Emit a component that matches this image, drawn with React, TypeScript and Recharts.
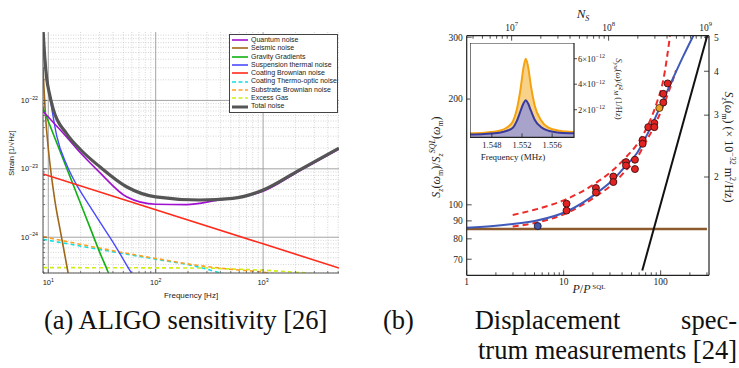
import React from "react";
import {
  Area,
  AreaChart,
  ComposedChart,
  Label,
  Legend,
  Line,
  ReferenceArea,
  ReferenceLine,
  Scatter,
  XAxis,
  YAxis
} from "recharts";

type Pt = [number, number];

// ---------- (a) ALIGO sensitivity: [frequency Hz, strain 1/sqrt(Hz)] ----------
const quantumNoise: Pt[] = [
  [8.93, 6.9e-23], [14.8, 2.92e-23], [20, 1.7e-23], [30.2, 8.8e-24], [53.5, 3.9e-24],
  [100, 3.03e-24], [193, 3.0e-24], [366, 3.45e-24], [1000, 4.7e-24], [2174, 9.3e-24], [5090, 1.95e-23]
];
const seismicNoise: Pt[] = [
  [8.93, 3e-22], [9.5, 5e-23], [10, 2e-23], [11.5, 3.5e-24], [13, 1.2e-24], [15.3, 3e-25], [16, 2e-25]
];
const gravityGradients: Pt[] = [
  [8.93, 7.8e-23], [15, 9.8e-24], [19.4, 3.5e-24], [25, 1.27e-24], [30, 6.1e-25], [36, 3.1e-25], [40, 2e-25]
];
const suspensionThermal: Pt[] = [
  [8.93, 1.2e-21], [9.5, 3e-22], [10.4, 1.1e-22], [12, 3e-23], [15, 1.1e-23], [19, 5.3e-24],
  [22.4, 3.5e-24], [30, 1.7e-24], [40, 8.5e-25], [59.5, 3e-25], [65, 2.4e-25]
];
const coatingBrownian: Pt[] = [[8.93, 8.4e-24], [100, 2.52e-24], [1000, 8e-25], [5090, 3.55e-25]];
const coatingThermoOptic: Pt[] = [
  [8.93, 9.3e-25], [46, 5.9e-25], [98, 4.8e-25], [238, 3.75e-25], [400, 3e-25], [450, 2.85e-25]
];
const substrateBrownian: Pt[] = [
  [8.93, 1.02e-24], [46, 6.1e-25], [100, 4.9e-25], [240, 3.9e-25], [500, 3.4e-25], [1150, 3e-25], [1300, 2.9e-25]
];
const excessGas: Pt[] = [[8.93, 3.6e-25], [300, 3.55e-25], [1000, 3.3e-25], [2600, 3e-25], [3000, 2.9e-25]];
const totalNoise: Pt[] = [
  [8.93, 1.1e-21], [9.3, 4e-22], [9.7, 2e-22], [10.2, 1.3e-22], [11.1, 7.5e-23], [14.8, 3.27e-23],
  [20, 1.9e-23], [30.2, 1.07e-23], [53.5, 5.47e-24], [100, 3.89e-24], [256, 3.5e-24], [522, 3.7e-24],
  [1000, 4.9e-24], [2174, 9.6e-24], [5090, 2e-23]
];

const aligoXDomain = [8.93, 5090];
const aligoYDomain = [3e-25, 1e-21];
const aligoXDecades = [10, 100, 1000];
const aligoYDecades = [1e-25, 1e-24, 1e-23, 1e-22];

const legendItems = [
  { name: "Quantum noise", color: "#a010d0", dashed: false },
  { name: "Seismic noise", color: "#a0661a", dashed: false },
  { name: "Gravity Gradients", color: "#10b010", dashed: false },
  { name: "Suspension thermal noise", color: "#4a4aff", dashed: false },
  { name: "Coating Brownian noise", color: "#ff2a1a", dashed: false },
  { name: "Coating Thermo-optic noise", color: "#10e0e0", dashed: true },
  { name: "Substrate Brownian noise", color: "#ffa020", dashed: true },
  { name: "Excess Gas", color: "#d0ee10", dashed: true },
  { name: "Total noise", color: "#555555", dashed: false }
];

// ---------- (b) displacement spectrum: [P/P_SQL, S_z/S_z^SQL] ----------
const blueFit: Pt[] = [
  [1, 86], [2, 87.2], [3, 88.2], [5.3, 90.2], [10.7, 95.7], [21.9, 108], [32.5, 118], [44.6, 130],
  [56.6, 140], [66.2, 151], [83.9, 172], [106.5, 199], [134.9, 230], [171, 265], [217, 303]
];
const redUpper: Pt[] = [
  [2.98, 93.6], [5.27, 97.2], [10.7, 103.8], [21.9, 115.8], [32.5, 125.8], [44.6, 137.3],
  [56.6, 148.2], [71.7, 165.4], [91, 194.9], [106.5, 227], [124.7, 302]
];
const redLower: Pt[] = [
  [2.98, 86.7], [5.27, 89], [10.7, 94.7], [21.9, 106.1], [32.5, 115], [44.6, 126], [56.6, 135.5],
  [66.2, 146.6], [83.9, 165.4], [106.5, 191.4], [124.7, 214.8], [143.8, 241.3]
];
const sqlFloor: Pt[] = [[1, 85.3], [300, 85.3]];
const backAction: Pt[] = [[64.6, 65], [302, 303]];
const redDots: Pt[] = [
  [10.7, 100.7], [10.7, 96.3], [21.5, 111.6], [21.5, 108.4], [32.5, 120.4], [32.5, 116.1],
  [43.9, 132.3], [43.9, 129.4], [54.3, 134.4], [54.3, 126.4], [65.2, 153], [65.2, 149.2],
  [74.5, 166.4], [86, 170.9], [86, 166.4], [106.4, 195.6], [106.4, 207], [118, 221.6]
];
const orangeDots: Pt[] = [[96.8, 188.6]];
const blueDots: Pt[] = [[5.4, 87]];

const pDomain = [1, 315];
const nsDomain = [3.44e6, 1.084e9];
const ratioDomain = [63, 303];
const szDomain = [1.05, 5.05];
const pTicks = [1, 2, 3, 4, 5, 6, 7, 8, 9, 10, 20, 30, 40, 50, 60, 70, 80, 90, 100, 200, 300];
const nsTicks = [
  4e6, 5e6, 6e6, 7e6, 8e6, 9e6, 1e7, 2e7, 3e7, 4e7, 5e7, 6e7, 7e7, 8e7, 9e7,
  1e8, 2e8, 3e8, 4e8, 5e8, 6e8, 7e8, 8e8, 9e8, 1e9
];
const ratioTicks = [70, 80, 90, 100, 200, 300];
const szTicks = [2, 3, 4, 5];

// inset: frequency (MHz) and spectra (1/Hz)
const insetFreq = [
  1.5451, 1.547, 1.549, 1.55, 1.5508, 1.5513, 1.5518, 1.5522, 1.5525, 1.5528, 1.5532, 1.5537, 1.5545, 1.5555, 1.557, 1.5589
];
const insetOrange = [
  0.15e-12, 0.2e-12, 0.35e-12, 0.6e-12, 1.1e-12, 2e-12, 3.6e-12, 5.3e-12, 6e-12, 5.4e-12, 3.8e-12,
  2.3e-12, 1.2e-12, 0.6e-12, 0.35e-12, 0.25e-12
];
const insetBlue = [
  0.05e-12, 0.1e-12, 0.2e-12, 0.35e-12, 0.6e-12, 1.1e-12, 1.9e-12, 2.5e-12, 2.75e-12, 2.5e-12, 1.9e-12,
  1.2e-12, 0.65e-12, 0.35e-12, 0.2e-12, 0.15e-12
];
const insetXTicks = [1.548, 1.552, 1.556];
const insetYTicks = [2e-12, 4e-12, 6e-12];

const SANS = '"Liberation Sans", Arial, sans-serif';
const SERIF = '"Liberation Serif", "DejaVu Serif", serif';

const rows = (pts: Pt[]) => pts.map(([x, y]) => ({ x, y }));
const minors = (decades: number[], lo: number, hi: number) =>
  decades.flatMap((d) => [2, 3, 4, 5, 6, 7, 8, 9].map((k) => k * d)).filter((v) => v >= lo * 0.999 && v <= hi);
const isDecade = (v: number) => Math.abs(Math.log10(v) - Math.round(Math.log10(v))) < 1e-9;

const pow10 = (e: string, size: number) => (
  <>
    <tspan>10</tspan>
    <tspan dy={-size * 0.45} fontSize={size * 0.7}>
      {e}
    </tspan>
  </>
);

type Side = "bottom" | "top" | "left" | "right";
function tickFactory(
  side: Side,
  labelOf: (v: number) => React.ReactNode | null,
  opt: { major: number; minor: number; inward: boolean; offset: number; font: string; size: number; color?: string }
) {
  return (props: any) => {
    const { x, y, payload } = props;
    const v = payload.value as number;
    const lab = labelOf(v);
    const len = lab != null ? opt.major : opt.minor;
    const dir = opt.inward ? 1 : -1;
    let x2 = x;
    let y2 = y;
    let tx = x;
    let ty = y;
    let anchor: "middle" | "end" | "start" = "middle";
    if (side === "bottom") {
      y2 = y - dir * len;
      ty = y + opt.offset;
    } else if (side === "top") {
      y2 = y + dir * len;
      ty = y - opt.offset;
    } else if (side === "left") {
      x2 = x + dir * len;
      tx = x - opt.offset;
      ty = y + opt.size * 0.35;
      anchor = "end";
    } else {
      x2 = x - dir * len;
      tx = x + opt.offset;
      ty = y + opt.size * 0.35;
      anchor = "start";
    }
    return (
      <g>
        {len !== 0 && <line x1={x} y1={y} x2={x2} y2={y2} stroke={opt.color ?? "#222"} strokeWidth={0.8} />}
        {lab != null && (
          <text x={tx} y={ty} textAnchor={anchor} fontFamily={opt.font} fontSize={opt.size} fill="#222">
            {lab}
          </text>
        )}
      </g>
    );
  };
}

function AligoLegend() {
  return (
    <div
      style={{
        background: "#fff",
        border: "1px solid #444",
        width: 105,
        padding: "1px 0 1px 2px",
        fontFamily: SANS,
        fontSize: 7,
        lineHeight: "8.3px",
        color: "#222",
        textAlign: "left"
      }}
    >
      {legendItems.map((it) => (
        <div key={it.name} style={{ display: "flex", alignItems: "center", whiteSpace: "nowrap" }}>
          <svg width={17} height={6} style={{ marginRight: 2, flex: "none" }}>
            <line
              x1={0}
              y1={3}
              x2={16}
              y2={3}
              stroke={it.color}
              strokeWidth={it.name === "Total noise" ? 3 : 1.6}
              strokeDasharray={it.dashed ? "4 2.5" : undefined}
            />
          </svg>
          {it.name}
        </div>
      ))}
    </div>
  );
}

function AligoChart() {
  const xMinor = minors([1, 10, 100, 1000], aligoXDomain[0], aligoXDomain[1]);
  const yMinor = minors(aligoYDecades, aligoYDomain[0], aligoYDomain[1]);
  const xAll = [...xMinor, ...aligoXDecades].sort((a, b) => a - b);
  const yAll = [...yMinor, ...aligoYDecades.filter((d) => d >= aligoYDomain[0])].sort((a, b) => a - b);
  const tickStyle = { font: SANS, size: 7.5, color: "#555" };
  const series: { pts: Pt[]; color: string; width: number; dash?: string; type: "monotone" | "linear" }[] = [
    { pts: excessGas, color: "#d0ee10", width: 1.6, dash: "4 3", type: "linear" },
    { pts: coatingThermoOptic, color: "#10e0e0", width: 1.6, dash: "4 3", type: "monotone" },
    { pts: substrateBrownian, color: "#ffa020", width: 1.6, dash: "4 3", type: "monotone" },
    { pts: seismicNoise, color: "#a0661a", width: 1.6, type: "monotone" },
    { pts: gravityGradients, color: "#10b010", width: 1.6, type: "monotone" },
    { pts: suspensionThermal, color: "#4a4aff", width: 1.4, type: "monotone" },
    { pts: coatingBrownian, color: "#ff2a1a", width: 1.6, type: "linear" },
    { pts: quantumNoise, color: "#a010d0", width: 1.6, type: "monotone" },
    { pts: totalNoise, color: "#555555", width: 3.2, type: "monotone" }
  ];
  return (
    <ComposedChart width={350} height={305} margin={{ top: 32, right: 11, bottom: 0, left: 0 }}>
      <XAxis
        dataKey="x"
        type="number"
        scale="log"
        domain={aligoXDomain}
        allowDataOverflow
        ticks={xAll}
        interval={0}
        height={32}
        tickSize={0}
        tickMargin={0}
        tickLine={false}
        axisLine={{ stroke: "#555" }}
        tick={tickFactory("bottom", (v) => (isDecade(v) ? pow10(String(Math.round(Math.log10(v))), 7.5) : null), {
          major: 4,
          minor: 2,
          inward: true,
          offset: 12,
          ...tickStyle
        })}
      >
        <Label
          content={() => (
            <text x={191} y={298} textAnchor="middle" fontFamily={SANS} fontSize={8} fill="#222">
              Frequency [Hz]
            </text>
          )}
        />
      </XAxis>
      <XAxis
        xAxisId="top"
        orientation="top"
        dataKey="x"
        type="number"
        scale="log"
        domain={aligoXDomain}
        allowDataOverflow
        ticks={xAll}
        interval={0}
        height={0}
        tickSize={0}
        tickMargin={0}
        tickLine={false}
        axisLine={{ stroke: "#555" }}
        tick={tickFactory("top", () => null, { major: 4, minor: 2, inward: true, offset: 0, ...tickStyle })}
      />
      <YAxis
        dataKey="y"
        type="number"
        scale="log"
        domain={aligoYDomain}
        allowDataOverflow
        ticks={yAll}
        interval={0}
        width={43}
        tickSize={0}
        tickMargin={0}
        tickLine={false}
        axisLine={{ stroke: "#555" }}
        tick={tickFactory("left", (v) => (isDecade(v) ? pow10("\u2212" + String(-Math.round(Math.log10(v))), 7.5) : null), {
          major: 4,
          minor: 2,
          inward: true,
          offset: 5,
          ...tickStyle
        })}
      >
        <Label
          content={() => (
            <text transform="translate(14,153) rotate(-90)" textAnchor="middle" fontFamily={SANS} fontSize={7.5} fill="#222">
              Strain [1/√Hz]
            </text>
          )}
        />
      </YAxis>
      <YAxis
        yAxisId="right"
        orientation="right"
        dataKey="y"
        type="number"
        scale="log"
        domain={aligoYDomain}
        allowDataOverflow
        ticks={yAll}
        interval={0}
        width={0}
        tickSize={0}
        tickMargin={0}
        tickLine={false}
        axisLine={{ stroke: "#555" }}
        tick={tickFactory("right", () => null, { major: 4, minor: 2, inward: true, offset: 0, ...tickStyle })}
      />
      {xMinor.map((v) => (
        <ReferenceLine key={"xm" + v} x={v} stroke="#c4c4c4" strokeWidth={0.7} strokeDasharray="1 1.5" />
      ))}
      {yMinor.map((v) => (
        <ReferenceLine key={"ym" + v} y={v} stroke="#c4c4c4" strokeWidth={0.7} strokeDasharray="1 1.5" />
      ))}
      {aligoXDecades.map((v) => (
        <ReferenceLine key={"xM" + v} x={v} stroke="#9a9a9a" strokeWidth={0.9} />
      ))}
      {aligoYDecades
        .filter((v) => v > aligoYDomain[0])
        .map((v) => (
          <ReferenceLine key={"yM" + v} y={v} stroke="#9a9a9a" strokeWidth={0.9} />
        ))}
      {series.map((s, i) => (
        <Line
          key={i}
          data={rows(s.pts)}
          dataKey="y"
          type={s.type}
          stroke={s.color}
          strokeWidth={s.width}
          strokeDasharray={s.dash}
          dot={false}
          activeDot={false}
          isAnimationActive={false}
        />
      ))}
      <Legend
        layout="vertical"
        align="center"
        verticalAlign="middle"
        wrapperStyle={{ left: 229, top: 34, width: 108 }}
        content={() => <AligoLegend />}
      />
    </ComposedChart>
  );
}

function Dot(fill: string, stroke: string) {
  return (p: any) => <circle cx={p.cx} cy={p.cy} r={3.5} fill={fill} stroke={stroke} strokeWidth={0.9} />;
}

function DisplacementChart() {
  const t = { font: SERIF, size: 9.5, color: "#222" };
  return (
    <ComposedChart width={369} height={300} margin={{ top: 14, right: 0, bottom: 0, left: 0 }}>
      <XAxis
        xAxisId="p"
        dataKey="x"
        type="number"
        scale="log"
        domain={pDomain}
        allowDataOverflow
        ticks={pTicks}
        interval={0}
        height={24.7}
        tickSize={0}
        tickMargin={0}
        tickLine={false}
        axisLine={{ stroke: "#222", strokeWidth: 1.2 }}
        tick={tickFactory("bottom", (v) => (isDecade(v) ? String(v) : null), {
          major: 5,
          minor: 3,
          inward: true,
          offset: 10,
          ...t
        })}
      >
        <Label
          content={() => (
            <text x={219} y={293} textAnchor="middle" fontFamily={SERIF} fontSize={12} fill="#222">
              <tspan fontStyle="italic">P</tspan>
              <tspan>/</tspan>
              <tspan fontStyle="italic">P</tspan>
              <tspan dy={-4} fontSize={7}>
                {" SQL"}
              </tspan>
            </text>
          )}
        />
      </XAxis>
      <XAxis
        xAxisId="ns"
        orientation="top"
        dataKey="x"
        type="number"
        scale="log"
        domain={nsDomain}
        allowDataOverflow
        ticks={nsTicks}
        interval={0}
        height={21.7}
        tickSize={0}
        tickMargin={0}
        tickLine={false}
        axisLine={{ stroke: "#222", strokeWidth: 1.2 }}
        tick={tickFactory("top", (v) => (isDecade(v) ? pow10(String(Math.round(Math.log10(v))), 9.5) : null), {
          major: 5,
          minor: 3,
          inward: true,
          offset: 5,
          ...t
        })}
      >
        <Label
          content={() => (
            <text x={213} y={18} textAnchor="middle" fontFamily={SERIF} fontSize={13} fontStyle="italic" fill="#222">
              N
              <tspan dy={3} fontSize={8}>
                S
              </tspan>
            </text>
          )}
        />
      </XAxis>
      <YAxis
        yAxisId="l"
        dataKey="y"
        type="number"
        scale="log"
        domain={ratioDomain}
        allowDataOverflow
        ticks={ratioTicks}
        interval={0}
        width={96.7}
        tickSize={0}
        tickMargin={0}
        tickLine={false}
        axisLine={{ stroke: "#222", strokeWidth: 1.2 }}
        tick={tickFactory("left", (v) => String(v), { major: 5, minor: 3, inward: true, offset: 4, ...t })}
      >
        <Label
          content={() => (
            <text transform="translate(70,157) rotate(-90)" textAnchor="middle" fontFamily={SERIF} fontSize={12} fill="#222">
              <tspan fontStyle="italic">S</tspan>
              <tspan dy={3} fontSize={8} fontStyle="italic">z</tspan>
              <tspan dy={-3}>(</tspan>
              <tspan fontStyle="italic">ω</tspan>
              <tspan dy={3} fontSize={8}>m</tspan>
              <tspan dy={-3}>)/</tspan>
              <tspan fontStyle="italic">S</tspan>
              <tspan dy={3} fontSize={8} fontStyle="italic">z</tspan>
              <tspan dy={-8} fontSize={8} fontStyle="italic">SQL</tspan>
              <tspan dy={5}>(</tspan>
              <tspan fontStyle="italic">ω</tspan>
              <tspan dy={3} fontSize={8}>m</tspan>
              <tspan dy={-3}>)</tspan>
            </text>
          )}
        />
      </YAxis>
      <YAxis
        yAxisId="r"
        orientation="right"
        dataKey="y"
        type="number"
        scale="log"
        domain={szDomain}
        allowDataOverflow
        ticks={szTicks}
        interval={0}
        width={30}
        tickSize={0}
        tickMargin={0}
        tickLine={false}
        axisLine={{ stroke: "#222", strokeWidth: 1.2 }}
        tick={tickFactory("right", (v) => String(v), { major: 5, minor: 3, inward: true, offset: 5, ...t })}
      >
        <Label
          content={() => (
            <text transform="translate(355,147) rotate(90)" textAnchor="middle" fontFamily={SERIF} fontSize={12} fill="#222">
              <tspan fontStyle="italic">S</tspan>
              <tspan dy={3} fontSize={8} fontStyle="italic">z</tspan>
              <tspan dy={-3}>(</tspan>
              <tspan fontStyle="italic">ω</tspan>
              <tspan dy={3} fontSize={8}>m</tspan>
              <tspan dy={-3}>) (× 10</tspan>
              <tspan dy={-5} fontSize={8}>−32</tspan>
              <tspan dy={5}> m</tspan>
              <tspan dy={-5} fontSize={8}>2</tspan>
              <tspan dy={5}>/Hz)</tspan>
            </text>
          )}
        />
      </YAxis>
      <Line xAxisId="p" yAxisId="l" data={rows(sqlFloor)} dataKey="y" type="linear" stroke="#8c5a2c" strokeWidth={2.4} dot={false} activeDot={false} isAnimationActive={false} />
      <Line xAxisId="p" yAxisId="l" data={rows(backAction)} dataKey="y" type="linear" stroke="#111" strokeWidth={2} dot={false} activeDot={false} isAnimationActive={false} />
      <Line xAxisId="p" yAxisId="l" data={rows(redLower)} dataKey="y" type="monotone" stroke="#ee2a2a" strokeWidth={2} strokeDasharray="6 4" dot={false} activeDot={false} isAnimationActive={false} />
      <Line xAxisId="p" yAxisId="l" data={rows(redUpper)} dataKey="y" type="monotone" stroke="#ee2a2a" strokeWidth={2} strokeDasharray="6 4" dot={false} activeDot={false} isAnimationActive={false} />
      <Line xAxisId="p" yAxisId="l" data={rows(blueFit)} dataKey="y" type="monotone" stroke="#3f5ab8" strokeWidth={2} dot={false} activeDot={false} isAnimationActive={false} />
      <Scatter xAxisId="p" yAxisId="l" data={rows(redDots)} dataKey="y" shape={Dot("#e32222", "#3a1010")} isAnimationActive={false} />
      <Scatter xAxisId="p" yAxisId="l" data={rows(orangeDots)} dataKey="y" shape={Dot("#f0a020", "#4a3010")} isAnimationActive={false} />
      <Scatter xAxisId="p" yAxisId="l" data={rows(blueDots)} dataKey="y" shape={Dot("#4858a8", "#1a1a40")} isAnimationActive={false} />
    </ComposedChart>
  );
}

function InsetChart() {
  const data = insetFreq.map((f, i) => ({ f, o: insetOrange[i], b: insetBlue[i] }));
  const yDom = [-0.17e-12, 7.23e-12];
  const xDom = [1.5451, 1.5589];
  const t = { font: SERIF, size: 8.5, color: "#222" };
  return (
    <AreaChart width={156} height={120} data={data} margin={{ top: 0, right: 0, bottom: 0, left: 0 }}>
      <XAxis
        dataKey="f"
        type="number"
        domain={xDom}
        allowDataOverflow
        ticks={insetXTicks}
        interval={0}
        height={25.6}
        tickSize={0}
        tickMargin={0}
        tickLine={false}
        axisLine={false}
        tick={tickFactory("bottom", (v) => v.toFixed(3), { major: 4, minor: 2, inward: true, offset: 11, ...t })}
      >
        <Label
          content={() => (
            <text x={43} y={117} textAnchor="middle" fontFamily={SERIF} fontSize={9} fill="#222">
              Frequency (MHz)
            </text>
          )}
        />
      </XAxis>
      <YAxis
        orientation="right"
        type="number"
        domain={yDom}
        allowDataOverflow
        ticks={insetYTicks}
        interval={0}
        width={52}
        tickSize={0}
        tickMargin={0}
        tickLine={false}
        axisLine={false}
        tick={tickFactory(
          "right",
          (v) => (
            <>
              <tspan>{Math.round(v * 1e12)}×10</tspan>
              <tspan dy={-3.5} fontSize={6}>
                −12
              </tspan>
            </>
          ),
          { major: -3, minor: 0, inward: true, offset: 4, ...t }
        )}
      >
        <Label
          content={() => (
            <text transform="translate(146,46) rotate(90)" textAnchor="middle" fontFamily={SERIF} fontSize={8.5} fill="#222">
              <tspan fontStyle="italic">S</tspan>
              <tspan dy={2.5} fontSize={6} fontStyle="italic">y</tspan>
              <tspan fontSize={5} fontStyle="italic">M</tspan>
              <tspan dy={-2.5}>(</tspan>
              <tspan fontStyle="italic">ω</tspan>
              <tspan>)/</tspan>
              <tspan fontStyle="italic">ξ̄</tspan>
              <tspan dy={-3} fontSize={6}>2</tspan>
              <tspan dy={5} fontSize={6} fontStyle="italic">M</tspan>
              <tspan dy={-2}> (1/Hz)</tspan>
            </text>
          )}
        />
      </YAxis>
      <ReferenceArea x1={xDom[0]} x2={xDom[1]} y1={yDom[0]} y2={yDom[1]} fill="#fff" fillOpacity={1} stroke="none" />
      <Area dataKey="o" type="monotone" baseValue="dataMin" stroke="#f5a210" strokeWidth={2} fill="#f9d28a" fillOpacity={1} isAnimationActive={false} dot={false} activeDot={false} />
      <Area dataKey="b" type="monotone" baseValue="dataMin" stroke="#3a3a9c" strokeWidth={2} fill="#9d9dd0" fillOpacity={0.9} isAnimationActive={false} dot={false} activeDot={false} />
      <ReferenceArea x1={xDom[0]} x2={xDom[1]} y1={yDom[0]} y2={yDom[1]} fill="none" stroke="#222" strokeWidth={1.2} />
    </AreaChart>
  );
}

export default function App() {
  return (
    <div style={{ position: "absolute", left: 0, top: 0, width: 739, height: 368, background: "#fff", overflow: "hidden" }}>
      <div style={{ position: "absolute", left: 0, top: 0 }}>
        <AligoChart />
      </div>
      <div style={{ position: "absolute", left: 370, top: 0 }}>
        <DisplacementChart />
      </div>
      <div style={{ position: "absolute", left: 470, top: 43.3 }}>
        <InsetChart />
      </div>
      <div
        style={{
          position: "absolute",
          left: 44,
          top: 305,
          fontFamily: SERIF,
          fontSize: 26.5,
          lineHeight: "30px",
          whiteSpace: "nowrap",
          color: "#111"
        }}
      >
        (a) ALIGO sensitivity [26]
      </div>
      <div
        style={{
          position: "absolute",
          left: 383,
          width: 354,
          top: 305,
          display: "flex",
          justifyContent: "space-between",
          fontFamily: SERIF,
          fontSize: 26.5,
          lineHeight: "30px",
          whiteSpace: "nowrap",
          color: "#111"
        }}
      >
        <span>(b)</span>
        <span>Displacement</span>
        <span>spec-</span>
      </div>
      <div
        style={{
          position: "absolute",
          right: 2,
          top: 335,
          fontFamily: SERIF,
          fontSize: 26.5,
          lineHeight: "30px",
          whiteSpace: "nowrap",
          color: "#111"
        }}
      >
        trum measurements [24]
      </div>
    </div>
  );
}
